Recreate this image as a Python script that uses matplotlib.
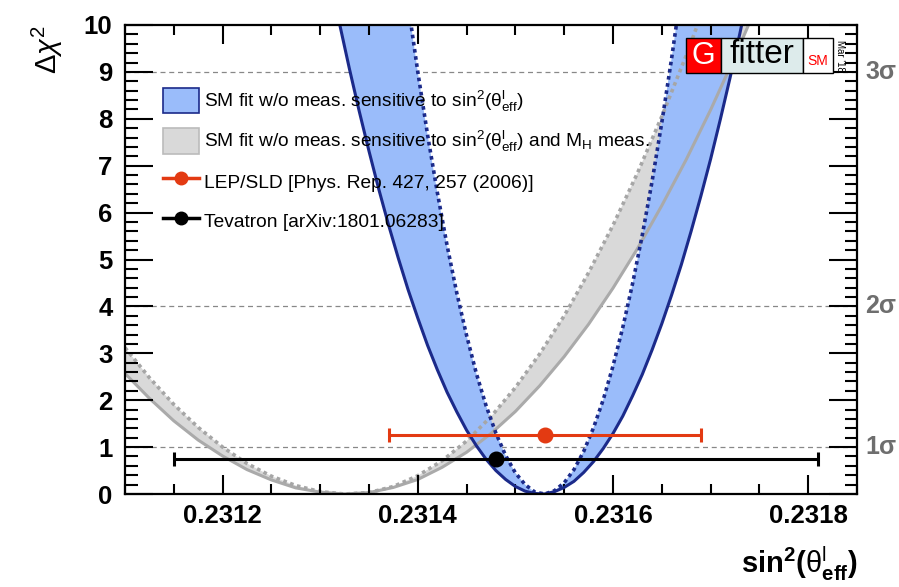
import matplotlib
matplotlib.use("Agg")
import matplotlib.pyplot as plt
from matplotlib.patches import Patch, Rectangle
from matplotlib.lines import Line2D
from matplotlib.ticker import MultipleLocator, FormatStrFormatter
import matplotlib.transforms as mtransforms

plt.rcParams['font.family'] = ['Liberation Sans', 'DejaVu Sans']
plt.rcParams['mathtext.fontset'] = 'custom'
plt.rcParams['mathtext.rm'] = 'Liberation Sans'
plt.rcParams['mathtext.it'] = 'Liberation Sans:italic'
plt.rcParams['mathtext.bf'] = 'Liberation Sans:bold'

# ---------------- data ----------------
# blue band: SM fit w/o measurements sensitive to sin^2(theta_eff)
blue_x = [0.23132, 0.23133, 0.23134, 0.23135, 0.23136, 0.23137, 0.23138, 0.23139,
          0.23140, 0.23141, 0.23142, 0.23143, 0.23144, 0.23145, 0.23146, 0.23147,
          0.23148, 0.23149, 0.23150, 0.23151, 0.23152, 0.23153, 0.23154, 0.23155,
          0.23156, 0.23157, 0.23158, 0.23159, 0.23160, 0.23161, 0.23162, 0.23163,
          0.23164, 0.23165, 0.23166, 0.23167, 0.23168, 0.23169, 0.23170, 0.23171,
          0.23172, 0.23173, 0.23174]
blue_solid = [10.01, 9.06, 8.16, 7.31, 6.50, 5.74, 5.03, 4.36, 3.75, 3.17, 2.65,
              2.17, 1.75, 1.36, 1.03, 0.74, 0.50, 0.31, 0.16, 0.06, 0.01, 0.00,
              0.05, 0.14, 0.27, 0.46, 0.69, 0.97, 1.29, 1.66, 2.09, 2.55, 3.07,
              3.63, 4.24, 4.89, 5.60, 6.35, 7.14, 7.99, 8.88, 9.82, 10.81]
blue_dotted = [23.6, 21.4, 19.3, 17.3, 15.4, 13.7, 12.0, 10.45, 9.00, 7.66, 6.43,
               5.30, 4.28, 3.38, 2.57, 1.88, 1.30, 0.82, 0.45, 0.20, 0.04, 0.00,
               0.07, 0.24, 0.52, 0.91, 1.41, 2.01, 2.73, 3.55, 4.48, 5.52, 6.66,
               7.92, 9.28, 10.75, 12.3, 14.0, 15.8, 17.7, 19.7, 21.8, 24.1]

# gray band: SM fit w/o sin^2(theta_eff) and M_H measurements
gray_x = [0.231100, 0.231125, 0.231150, 0.231175, 0.231200, 0.231225, 0.231250,
          0.231275, 0.231300, 0.231325, 0.231350, 0.231375, 0.231400, 0.231425,
          0.231450, 0.231475, 0.231500, 0.231525, 0.231550, 0.231575, 0.231600,
          0.231625, 0.231650, 0.231675, 0.231700, 0.231725, 0.231750, 0.231775,
          0.231800, 0.231825, 0.231850]
gray_solid = [2.57, 2.04, 1.56, 1.15, 0.81, 0.52, 0.30, 0.13, 0.04, 0.00, 0.03,
              0.14, 0.31, 0.57, 0.89, 1.29, 1.76, 2.31, 2.93, 3.62, 4.39, 5.23,
              6.15, 7.13, 8.19, 9.33, 10.54, 11.82, 13.18, 14.61, 16.11]
gray_dotted = [3.12, 2.48, 1.91, 1.42, 1.00, 0.65, 0.38, 0.18, 0.05, 0.00, 0.03,
               0.16, 0.39, 0.71, 1.13, 1.65, 2.27, 2.99, 3.80, 4.72, 5.73, 6.84,
               8.05, 9.35, 10.76, 12.26, 13.86, 15.56, 17.36, 19.26, 21.25]

# measurements
lep_val, lep_err, lep_y = 0.23153, 0.00016, 1.25
tev_val, tev_err, tev_y = 0.23148, 0.00033, 0.75

sigma_levels = [1, 4, 9]
sigma_labels = ['1σ', '2σ', '3σ']

legend_labels = [r'SM fit w/o meas. sensitive to sin$^{2}$($\mathrm{θ}^{\mathrm{l}}_{\mathrm{eff}}$)',
                 r'SM fit w/o meas. sensitive to sin$^{2}$($\mathrm{θ}^{\mathrm{l}}_{\mathrm{eff}}$) and M$_{\mathrm{H}}$ meas.',
                 'LEP/SLD [Phys. Rep. 427, 257 (2006)]',
                 'Tevatron [arXiv:1801.06283]']

# ---------------- styles ----------------
BLUE_FILL = '#9abcfa'
BLUE_LINE = '#1b2a8a'
GRAY_FILL = '#d9d9d9'
GRAY_LINE = '#aaaaaa'
RED = '#e33a12'
DOT = (0, (1.0, 1.0))

fig = plt.figure(figsize=(8.99, 5.87), dpi=100)
ax = fig.add_axes([125/899, 1-494/587, 732/899, 469/587])

# bands
ax.fill_between(gray_x, gray_solid, gray_dotted, color=GRAY_FILL, lw=0, zorder=1)
ax.fill_between(blue_x, blue_solid, blue_dotted, color=BLUE_FILL, lw=0, zorder=1.2)
ax.plot(gray_x, gray_solid, color=GRAY_LINE, lw=2.2, zorder=1.5)
ax.plot(gray_x, gray_dotted, color='#a6a6a6', lw=2.6, ls=DOT, zorder=1.5)
ax.plot(blue_x, blue_solid, color=BLUE_LINE, lw=2.2, zorder=1.7)
ax.plot(blue_x, blue_dotted, color=BLUE_LINE, lw=2.6, ls=DOT, zorder=1.7)

# sigma lines
for lv in sigma_levels:
    ax.axhline(lv, color='#888888', lw=0.9, ls=(0, (4, 3)), zorder=0.5)

# measurements
ax.errorbar([lep_val], [lep_y], xerr=[lep_err], fmt='o', color=RED, ms=10.5,
            elinewidth=2.2, capsize=5, capthick=2.2, zorder=3)
ax.errorbar([tev_val], [tev_y], xerr=[tev_err], fmt='o', color='black', ms=10.5,
            elinewidth=2.2, capsize=5, capthick=2.2, zorder=3)

ax.set_xlim(0.2311, 0.23185)
ax.set_ylim(0, 10)
ax.xaxis.set_major_locator(MultipleLocator(0.0002))
ax.xaxis.set_minor_locator(MultipleLocator(0.00005))
ax.xaxis.set_major_formatter(FormatStrFormatter('%.4f'))
ax.yaxis.set_major_locator(MultipleLocator(1))
ax.yaxis.set_minor_locator(MultipleLocator(0.2))
ax.tick_params(axis='both', which='both', direction='in', top=True, right=True,
               width=1.5, labelsize=18.5)
ax.tick_params(axis='x', which='major', length=14, pad=7)
ax.tick_params(axis='x', which='minor', length=7)
ax.tick_params(axis='y', which='major', length=20, pad=9)
ax.tick_params(axis='y', which='minor', length=9)
for lab in ax.get_xticklabels() + ax.get_yticklabels():
    lab.set_fontweight('bold')
for sp in ax.spines.values():
    sp.set_linewidth(1.6)

# sigma labels on the right
trans = mtransforms.blended_transform_factory(ax.transAxes, ax.transData)
for lv, lab in zip(sigma_levels, sigma_labels):
    ax.text(1.011, lv, lab, transform=trans, ha='left', va='center',
            fontsize=18, fontweight='bold', color='#6e6e6e', clip_on=False)

# legend
handles = [Patch(facecolor=BLUE_FILL, edgecolor=BLUE_LINE, lw=1.2),
           Patch(facecolor=GRAY_FILL, edgecolor='#bbbbbb', lw=1.2),
           Line2D([], [], color=RED, lw=2.5, marker='o', ms=9),
           Line2D([], [], color='black', lw=2.5, marker='o', ms=9)]
leg = ax.legend(handles, legend_labels, loc='upper left', bbox_to_anchor=(0.052, 0.866),
                frameon=False, fontsize=13.8, borderpad=0, borderaxespad=0,
                handlelength=1.85, handleheight=1.65, handletextpad=0.28,
                labelspacing=0.76)
leg.set_zorder(5)

# axis labels
fig.text(47/899, 1-50/587, r'$\Delta\chi^{2}$', rotation=90, ha='center', va='center',
         fontsize=21)
fig.text(858/899, 1-573/587,
         r'$\mathbf{sin}^{\mathbf{2}}\mathbf{(}\mathrm{θ}^{\mathrm{l}}_{\mathbf{eff}}\mathbf{)}$',
         ha='right', va='baseline', fontsize=21)

# Gfitter logo
H = 1-73/587
hgt = 35/587
fig.add_artist(Rectangle((686/899, H), 35/899, hgt, transform=fig.transFigure,
                         facecolor='#ff0000', edgecolor='black', lw=1, zorder=10))
fig.add_artist(Rectangle((721/899, H), 82/899, hgt, transform=fig.transFigure,
                         facecolor='#ddebeb', edgecolor='black', lw=1, zorder=10))
fig.add_artist(Rectangle((803/899, H), 30/899, hgt, transform=fig.transFigure,
                         facecolor='white', edgecolor='black', lw=1, zorder=10))
fig.text(703.5/899, H + hgt/2, 'G', color='white', fontsize=22, ha='center',
         va='center', zorder=11)
fig.text(762/899, H + hgt/2 + 0.002, 'fitter', color='black', fontsize=24, ha='center',
         va='center', zorder=11)
fig.text(818/899, H + hgt*0.35, 'SM', color='#ff0000', fontsize=10, ha='center',
         va='center', zorder=11)
fig.text(840/899, H + hgt/2, "Mar '18", color='black', fontsize=7, ha='center',
         va='center', rotation=270, zorder=11)

fig.savefig('out.png', dpi=100)
